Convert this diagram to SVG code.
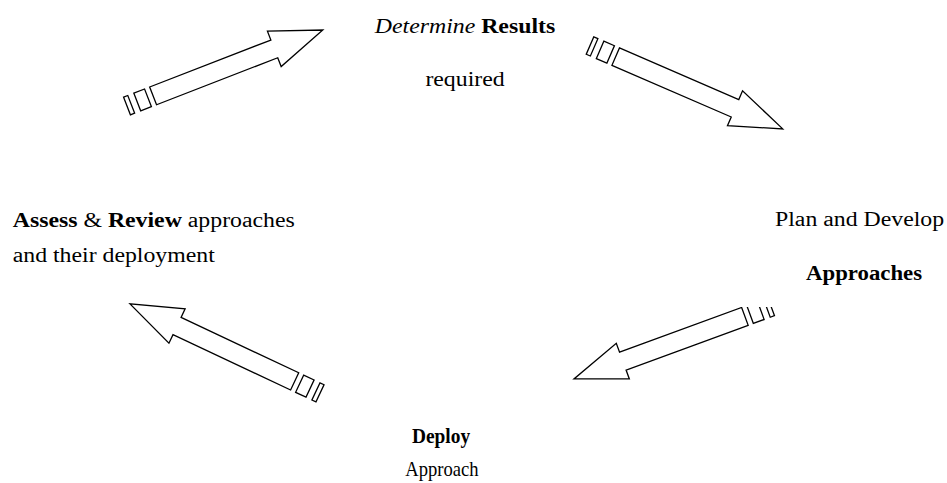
<svg xmlns="http://www.w3.org/2000/svg" width="947" height="483" viewBox="0 0 947 483">
  <style>
    .t { font-family: "Liberation Serif", "Times New Roman", serif; font-size: 20px; fill: #000; }
    .b { font-weight: bold; }
    .i { font-style: italic; }
    .arrow path, .arrow rect { fill: #fff; stroke: #000; stroke-width: 1.3; stroke-linejoin: miter; }
  </style>
  <defs>
    <!-- striped block arrow, pointing +x, tail at origin, centred on y=0 -->
    <g id="striped-arrow" class="arrow">
      <rect x="0" y="-9.5" width="4.5" height="19"/>
      <rect x="11" y="-9.5" width="11.5" height="19"/>
      <path d="M28,-9.5 L158,-9.5 L158,-19 L210,0 L158,19 L158,9.5 L28,9.5 Z"/>
    </g>
    <clipPath id="cut-top">
      <rect x="0" y="307" width="947" height="176"/>
    </clipPath>
  </defs>

  <!-- cycle connectors -->
  <g id="connectors">
    <use href="#striped-arrow" transform="translate(127,106) rotate(-21.2)"/>
    <use href="#striped-arrow" transform="translate(590,45.5) rotate(23.4)"/>
    <g clip-path="url(#cut-top)">
      <use href="#striped-arrow" transform="translate(771.2,306.8) rotate(159.9)"/>
    </g>
    <use href="#striped-arrow" transform="translate(320,393.3) rotate(205.2)"/>
  </g>

  <g id="node-results">
    <text class="t" text-anchor="middle" transform="translate(465,33) scale(1.19,1)"><tspan class="i">Determine</tspan> <tspan class="b">Results</tspan></text>
    <text class="t" text-anchor="middle" transform="translate(465,86) scale(1.19,1)">required</text>
  </g>

  <g id="node-plan">
    <text class="t" transform="translate(775,226) scale(1.19,1)">Plan and Develop</text>
    <text class="t b" transform="translate(806,280) scale(1.14,1)">Approaches</text>
  </g>

  <g id="node-deploy">
    <text class="t b" text-anchor="middle" transform="translate(441,443) scale(0.97,1)">Deploy</text>
    <text class="t" text-anchor="middle" transform="translate(442,476) scale(0.93,1)">Approach</text>
  </g>

  <g id="node-review">
    <text class="t" transform="translate(12.7,227) scale(1.19,1)"><tspan class="b">Assess</tspan> &amp; <tspan class="b">Review</tspan> approaches</text>
    <text class="t" transform="translate(12.7,262) scale(1.19,1)">and their deployment</text>
  </g>
</svg>
